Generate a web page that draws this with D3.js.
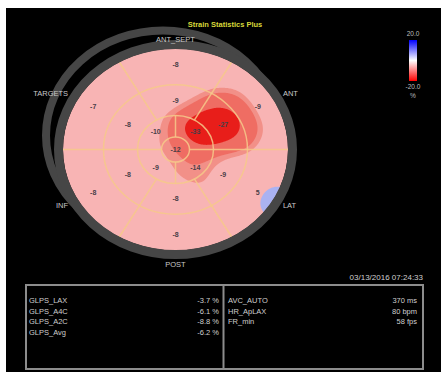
<!DOCTYPE html>
<html>
<head>
<meta charset="utf-8">
<script src="https://cdn.jsdelivr.net/npm/d3@7"></script>
<style>
  html, body { margin: 0; padding: 0; background: #ffffff; }
  svg { display: block; }
</style>
</head>
<body>
<svg id="chart" width="447" height="378"></svg>
<script>
// ---- Segment strain values (%), 17-segment bull's eye ----
const apexStrain = [-12];
const apicalAngles = [45, 135, 225, 315];          // segment centre angles, degrees
const apicalStrain = [-33, -10, -9, -14];
const ringAngles = [90, 30, -30, -90, -150, 150];   // mid & basal segment centres
const midStrain = [-9, -27, -9, -8, -8, -8];
const basalStrain = [-8, -9, 5, -8, -8, -7];

// ---- Text ----
const chartTitle = "Strain Statistics Plus";
const wallNames = ["ANT_SEPT", "ANT", "LAT", "POST", "INF", "TARGETS"];
const colorbarLabels = ["20.0", "-20.0", "%"];
const timestamp = "03/13/2016 07:24:33";
const glpsNames = ["GLPS_LAX", "GLPS_A4C", "GLPS_A2C", "GLPS_Avg"];
const glpsValues = [-3.7, -6.1, -8.8, -6.2];
const timingNames = ["AVC_AUTO", "HR_ApLAX", "FR_min"];
const timingValues = ["370 ms", "80 bpm", "58 fps"];

// ---- Layout ----
const cx = 175.5, cy = 149.5;   // bull's eye centre
const R = 112.5;                // outer radius (horizontal)
const ky = 0.898;               // vertical squash of the plot
const rApex = 14, rApical = 38, rMid = 72;
const labelR = { apex: 0, apical: 28, mid: 55, basal: 95 };
const nodeR = { apex: 0, apical: 28, mid: 55, basal: 118 };

const svg = d3.select("#chart");
const rad = d => d * Math.PI / 180;
const P = (r, a) => [cx + r * Math.cos(rad(a)), cy - r * Math.sin(rad(a)) * ky];

// background
svg.append("rect").attr("x", 6).attr("y", 8).attr("width", 435).attr("height", 364)
  .attr("fill", "#000");

// title
svg.append("text").attr("x", 225).attr("y", 27)
  .attr("text-anchor", "middle")
  .attr("font-family", "Liberation Sans, Arial, sans-serif")
  .attr("font-weight", "bold").attr("font-size", 7.5)
  .attr("fill", "#d8d83a").text(chartTitle);

// ---- Segments as interpolation nodes ----
const segments = [];
segments.push({ ring: "apex", angle: 90, v: apexStrain[0] });
apicalAngles.forEach((a, i) => segments.push({ ring: "apical", angle: a, v: apicalStrain[i] }));
ringAngles.forEach((a, i) => segments.push({ ring: "mid", angle: a, v: midStrain[i] }));
ringAngles.forEach((a, i) => segments.push({ ring: "basal", angle: a, v: basalStrain[i] }));

segments.forEach(s => {
  const r = nodeR[s.ring];
  s.u = r * Math.cos(rad(s.angle));
  s.w = r * Math.sin(rad(s.angle));
});
const background = d3.median(segments, s => s.v);

// strain field: Gaussian-weighted blend of segment values over a background level
const sigma = 16, w0 = 0.3;
function field(u, w) {
  let num = background * w0, den = w0;
  for (const s of segments) {
    const d2 = (u - s.u) ** 2 + (w - s.w) ** 2;
    const k = Math.exp(-d2 / (2 * sigma * sigma));
    num += k * s.v; den += k;
  }
  return num / den;
}

const step = 1;
const x0 = Math.floor(cx - R - 2), y0 = Math.floor(cy - R * ky - 2);
const nx = Math.ceil((2 * R + 4) / step), ny = Math.ceil((2 * R * ky + 4) / step);
const grid = new Float64Array(nx * ny);
for (let j = 0; j < ny; j++) {
  for (let i = 0; i < nx; i++) {
    const x = x0 + (i + 0.5) * step, y = y0 + (j + 0.5) * step;
    grid[j * nx + i] = field(x - cx, -(y - cy) / ky);
  }
}

// colour bands
const colour = d3.scaleLinear().domain([-20, 0, 20]).range(["#ff0000", "#ffffff", "#0000ff"]);
const redBands = [
  { t: 11, c: "#f29088" },
  { t: 13, c: "#ef6d63" },
  { t: 21, c: "#e81e1a" }
];
const blueBand = { t: 0, c: "#aab2f2" };
const pink = "#f8b4b4";

const defs = svg.append("defs");
defs.append("clipPath").attr("id", "disk")
  .append("ellipse").attr("cx", cx).attr("cy", cy).attr("rx", R).attr("ry", R * ky);
const grad = defs.append("linearGradient").attr("id", "cbar")
  .attr("x1", 0).attr("y1", 0).attr("x2", 0).attr("y2", 1);
[[0, 20], [0.5, 0], [1, -20]].forEach(([o, v]) =>
  grad.append("stop").attr("offset", o).attr("stop-color", colour(v)));

// offset outer arc behind the disk
svg.append("ellipse").attr("cx", cx - 12.5).attr("cy", cy - 14)
  .attr("rx", 117).attr("ry", 117 * ky)
  .attr("fill", "none").attr("stroke", "#464646").attr("stroke-width", 8);

// disk
svg.append("ellipse").attr("cx", cx).attr("cy", cy).attr("rx", R).attr("ry", R * ky)
  .attr("fill", pink);

const path = d3.geoPath(d3.geoIdentity().scale(step).translate([x0, y0]));
const gField = svg.append("g").attr("clip-path", "url(#disk)");

const pos = d3.contours().size([nx, ny]).thresholds([blueBand.t])(grid);
gField.selectAll("path.pos").data(pos).join("path")
  .attr("class", "pos").attr("d", path).attr("fill", blueBand.c);

const neg = d3.contours().size([nx, ny]).thresholds(redBands.map(b => b.t))(grid.map(v => -v));
gField.selectAll("path.neg").data(neg).join("path")
  .attr("class", "neg").attr("d", path)
  .attr("fill", (d, i) => redBands[i].c);

// segment outlines
const gLines = svg.append("g").attr("clip-path", "url(#disk)")
  .attr("stroke", "#f6c98a").attr("stroke-opacity", 0.85)
  .attr("stroke-width", 1.5).attr("fill", "none");
[rApex, rApical, rMid].forEach(r =>
  gLines.append("ellipse").attr("cx", cx).attr("cy", cy).attr("rx", r).attr("ry", r * ky));
[0, 90, 180, 270].forEach(a => {
  const p1 = P(rApex, a), p2 = P(rApical, a);
  gLines.append("line").attr("x1", p1[0]).attr("y1", p1[1]).attr("x2", p2[0]).attr("y2", p2[1]);
});
[0, 60, 120, 180, 240, 300].forEach(a => {
  const p1 = P(rApical, a), p2 = P(R, a);
  gLines.append("line").attr("x1", p1[0]).attr("y1", p1[1]).attr("x2", p2[0]).attr("y2", p2[1]);
});

// outer wall ring
svg.append("ellipse").attr("cx", cx).attr("cy", cy).attr("rx", 117).attr("ry", 117 * ky)
  .attr("fill", "none").attr("stroke", "#464646").attr("stroke-width", 9);

// segment value labels
svg.append("g").selectAll("text").data(segments).join("text")
  .attr("x", d => P(labelR[d.ring], d.angle)[0])
  .attr("y", d => P(labelR[d.ring], d.angle)[1] + 2.5)
  .attr("text-anchor", "middle")
  .attr("font-family", "Liberation Sans, Arial, sans-serif")
  .attr("font-weight", "bold").attr("font-size", 7)
  .attr("fill", "#4a3f48")
  .text(d => String(d.v));

// wall names
const wallFont = g => g.attr("font-family", "Liberation Sans, Arial, sans-serif")
  .attr("font-size", 7.5).attr("fill", "#c8c8c8");
const wallPos = [
  { a: 90, r: 122, anchor: "middle" },
  { a: 30, r: 124, anchor: "start" },
  { a: -30, r: 124, anchor: "start" },
  { a: -90, r: 128, anchor: "middle" },
  { a: -150, r: 124, anchor: "end" },
  { a: 150, r: 124, anchor: "end" }
];
svg.append("g").call(wallFont).selectAll("text").data(wallNames).join("text")
  .attr("x", (d, i) => P(wallPos[i].r, wallPos[i].a)[0])
  .attr("y", (d, i) => P(wallPos[i].r, wallPos[i].a)[1] + 2.5)
  .attr("text-anchor", (d, i) => wallPos[i].anchor)
  .text(d => d);

// colour bar
const cbar = d3.scaleLinear().domain([20, -20]).range([40, 81]);
svg.append("rect").attr("x", 409).attr("y", cbar(20)).attr("width", 8)
  .attr("height", cbar(-20) - cbar(20)).attr("fill", "url(#cbar)");
const cbFont = g => g.attr("font-family", "Liberation Sans, Arial, sans-serif")
  .attr("font-size", 6.5).attr("fill", "#bdbdbd").attr("text-anchor", "middle");
svg.append("text").call(cbFont).attr("x", 413).attr("y", cbar(20) - 4).text(colorbarLabels[0]);
svg.append("text").call(cbFont).attr("x", 413).attr("y", cbar(-20) + 8).text(colorbarLabels[1]);
svg.append("text").call(cbFont).attr("x", 413).attr("y", cbar(-20) + 17).text(colorbarLabels[2]);

// ---- Bottom statistics panel ----
const txt = g => g.attr("font-family", "Liberation Sans, Arial, sans-serif")
  .attr("font-size", 7.5).attr("fill", "#cfcfcf");
svg.append("text").call(txt).attr("x", 423).attr("y", 280).attr("text-anchor", "end")
  .attr("font-size", 8).text(timestamp);

const box = svg.append("g").attr("stroke", "#8c8c8c").attr("stroke-width", 2).attr("fill", "none");
box.append("rect").attr("x", 26).attr("y", 285).attr("width", 397).attr("height", 84);
box.append("line").attr("x1", 223.5).attr("y1", 285).attr("x2", 223.5).attr("y2", 369);

const rowY = d3.scaleLinear().domain([0, 1]).range([303, 313.5]);
const left = svg.append("g").call(txt);
left.selectAll("text.n").data(glpsNames).join("text").attr("class", "n")
  .attr("x", 29).attr("y", (d, i) => rowY(i)).text(d => d);
left.selectAll("text.v").data(glpsValues).join("text").attr("class", "v")
  .attr("x", 219).attr("y", (d, i) => rowY(i)).attr("text-anchor", "end")
  .text(d => d.toFixed(1) + " %");

const right = svg.append("g").call(txt);
right.selectAll("text.n").data(timingNames).join("text").attr("class", "n")
  .attr("x", 228).attr("y", (d, i) => rowY(i)).text(d => d);
right.selectAll("text.v").data(timingValues).join("text").attr("class", "v")
  .attr("x", 417).attr("y", (d, i) => rowY(i)).attr("text-anchor", "end")
  .text(d => d);
</script>
</body>
</html>
